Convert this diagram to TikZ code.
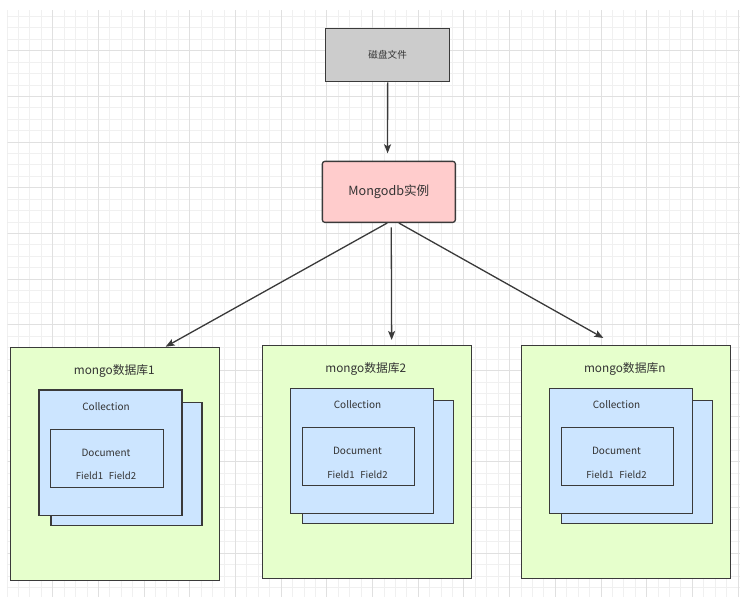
\documentclass[tikz,border=0pt]{standalone}
\usepackage{fontspec}
\setmainfont{Noto Sans CJK SC}
\usetikzlibrary{arrows.meta,calc}
\definecolor{edgec}{HTML}{3A3A3A}
\definecolor{txtc}{HTML}{333333}
\definecolor{diskfill}{HTML}{CCCCCC}
\definecolor{instfill}{HTML}{FFCCCC}
\definecolor{dbfill}{HTML}{E6FFCC}
\definecolor{colfill}{HTML}{CCE5FF}
\definecolor{gridminor}{HTML}{F0F0F0}
\definecolor{gridmajor}{HTML}{E0E0E0}
\tikzset{
  box/.style={draw=edgec, line width=1.3pt, inner sep=0pt, anchor=north west},
  diskbox/.style={box, fill=diskfill, minimum width=124pt, minimum height=53pt},
  instbox/.style={box, fill=instfill, rounded corners=2.5pt, minimum width=133pt, minimum height=61pt},
  dbbox/.style={box, fill=dbfill, minimum width=209pt, minimum height=233pt},
  colback/.style={box, fill=colfill, minimum width=151pt, minimum height=123pt},
  colfront/.style={box, fill=colfill, minimum width=143pt, minimum height=125.5pt},
  docbox/.style={box, fill=colfill, minimum width=112.5pt, minimum height=58pt},
  lbl/.style={text=txtc, inner sep=0pt},
  arr/.style={draw=edgec, line width=1.3pt, -{Stealth[length=9pt,width=7pt,inset=2pt]}},
  gminor/.style={draw=gridminor, line width=0.9pt},
  gmajor/.style={draw=gridmajor, line width=0.9pt},
}
\newcommand\mkdb[4]{%
  \node[dbbox] (db#1) at (#2,#3) {};
  \node[colback] (colb#1) at ($(db#1.north west)+(40.2,55)$) {};
  \node[colfront] (col#1) at ($(db#1.north west)+(28.3,42.5)$) {};
  \node[docbox] (doc#1) at ($(db#1.north west)+(40,81.8)$) {};
  \node[lbl, font=\fontsize{11.8}{12}\selectfont] (title#1) at ($(db#1.north west)+(104.3,24.5)$) {#4};
  \node[lbl, font=\fontsize{10}{12}\selectfont] (coltxt#1) at ($(db#1.north west)+(96,59.8)$) {Collection};
  \node[lbl, font=\fontsize{10}{12}\selectfont] (doctxt#1) at ($(db#1.north west)+(96,106)$) {Document};
  \node[lbl, font=\fontsize{9.6}{12}\selectfont] (fld#1) at ($(db#1.north west)+(96,129.5)$) {Field1\hspace{0.6em}Field2};
}
\begin{document}
\begin{tikzpicture}[x=1pt,y=-1pt]
\useasboundingbox[fill=white] (0,0) rectangle (740,597);
% grid
\begin{scope}
\clip (7.5,10) rectangle (740,597);
\foreach \i in {-4,...,61} {
  \pgfmathsetmacro\xx{52.7+11.4225*\i}
  \draw[gminor] (\xx,0) -- (\xx,597);
}
\foreach \i in {-4,...,50} {
  \pgfmathsetmacro\yy{50.7+11.4225*\i}
  \draw[gminor] (0,\yy) -- (740,\yy);
}
\foreach \i in {-1,...,15} {
  \pgfmathsetmacro\xx{52.7+45.69*\i}
  \draw[gmajor] (\xx,0) -- (\xx,597);
}
\foreach \i in {-1,...,12} {
  \pgfmathsetmacro\yy{50.7+45.69*\i}
  \draw[gmajor] (0,\yy) -- (740,\yy);
}
\end{scope}
% top boxes
\node[diskbox] (disk) at (325,28) {};
\node[lbl, font=\fontsize{9.6}{12}\selectfont] (disktxt) at (disk.center) {磁盘文件};
\node[instbox] (inst) at (321.7,160.7) {};
\node[lbl, font=\fontsize{12.6}{14}\selectfont] (insttxt) at (inst.center) {Mongodb实例};
% databases
\mkdb{1}{10}{346.7}{mongo数据库1}
\mkdb{2}{261.5}{345}{mongo数据库2}
\mkdb{n}{520.5}{345}{mongo数据库n}
% connectors
\draw[arr] (disk.south) -- ([xshift=-1.3pt,yshift=7.4pt]inst.north);
\draw[arr] ([xshift=-1.6pt]inst.south) -- ([xshift=50.5pt]db1.north);
\draw[arr] ([xshift=2.4pt,yshift=-4.3pt]inst.south) -- ([xshift=25pt,yshift=5pt]db2.north);
\draw[arr] ([xshift=10pt]inst.south) -- ([xshift=-22.3pt,yshift=7pt]dbn.north);
\end{tikzpicture}
\end{document}
